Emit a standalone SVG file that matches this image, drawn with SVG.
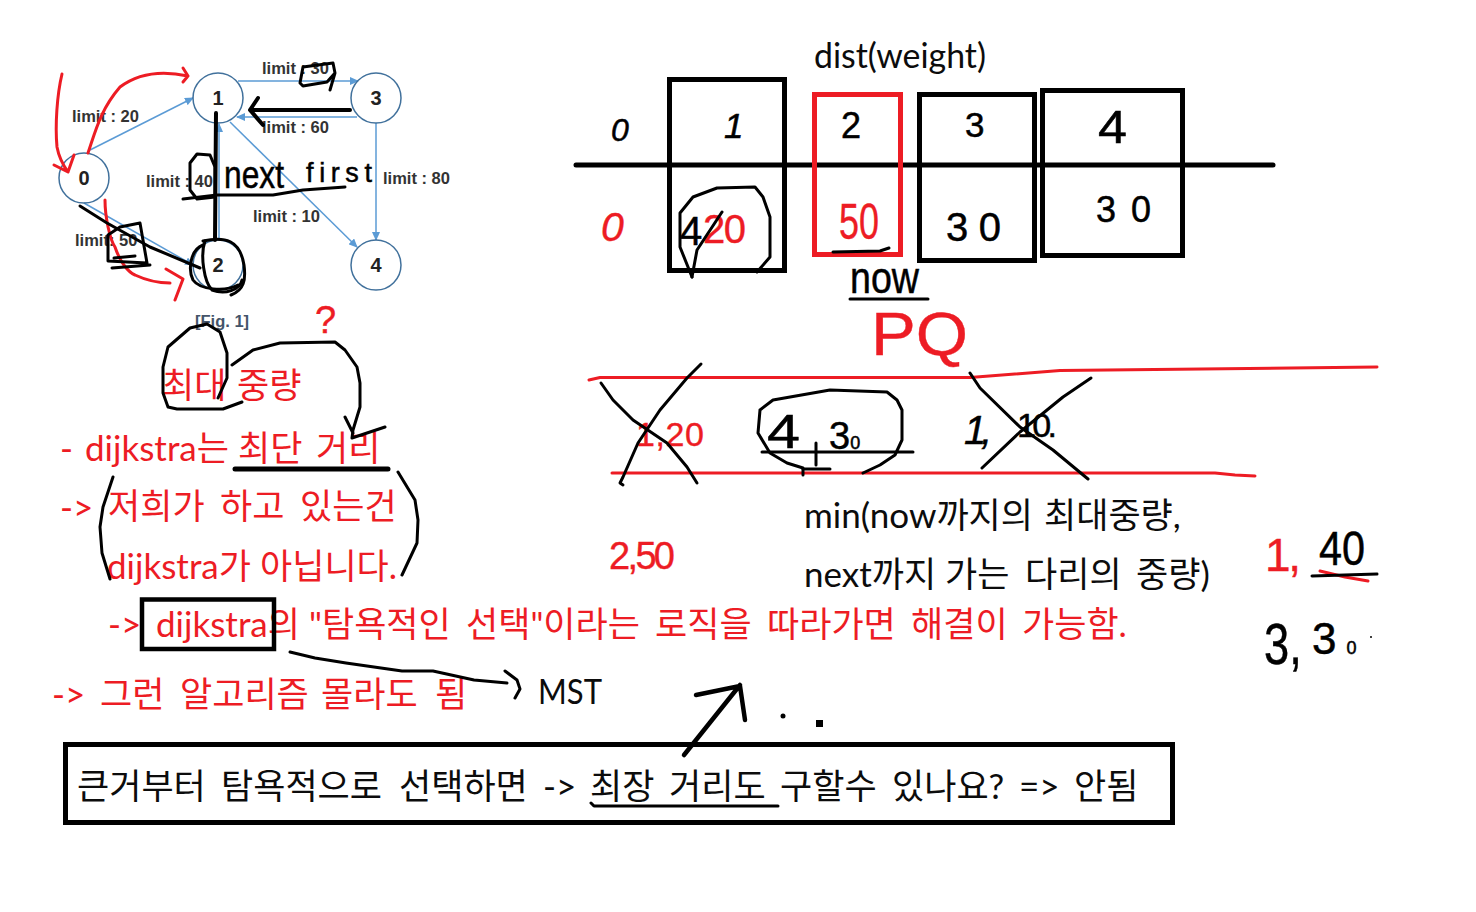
<svg xmlns="http://www.w3.org/2000/svg" width="1476" height="912" viewBox="0 0 1476 912">
<style>
.t{font-family:"Lato","Noto Sans CJK KR",sans-serif;font-size:35px}
.r{fill:#ed1c24}.k{fill:#0c0c0c}
.l{font-family:"Liberation Sans",sans-serif;font-size:16.5px;font-weight:700;fill:#333}
.n{font-family:"Liberation Sans",sans-serif;font-size:20px;font-weight:700;fill:#222;text-anchor:middle}
.c{fill:none;stroke:#41719c;stroke-width:1.5}
.e{fill:none;stroke:#5b9bd5;stroke-width:1.5;marker-end:url(#a)}
.ink{fill:none;stroke:#000;stroke-width:3;stroke-linecap:round;stroke-linejoin:round}
.red{fill:none;stroke:#ed1c24;stroke-width:3;stroke-linecap:round;stroke-linejoin:round}
.hw{font-family:"Liberation Sans",sans-serif}
.hi{font-family:"Liberation Sans",sans-serif;font-style:italic}
.hk{fill:#000;stroke:#000;stroke-width:.5}
.hr{fill:#ed1c24;stroke:#ed1c24;stroke-width:.4}
</style>
<defs><marker id="a" markerWidth="9" markerHeight="8" refX="8" refY="4" orient="auto" markerUnits="userSpaceOnUse"><path d="M0 0L9 4L0 8Z" fill="#5b9bd5"/></marker></defs>
<rect width="1476" height="912" fill="#fff"/>
<g id="connectors">
<path class="e" d="M90 150L193 98"/>
<path class="e" d="M238 81H358"/>
<path class="e" d="M357 117H237"/>
<path class="e" d="M219 240V124"/>
<path class="e" d="M230 122L357 247"/>
<path class="e" d="M376 123V240"/>
<path class="e" d="M84 203L193 265"/>
</g>
<g id="node0"><circle class="c" cx="84" cy="178" r="25"/><text class="n" x="84" y="185">0</text></g>
<g id="node1"><circle class="c" cx="218" cy="98" r="25"/><text class="n" x="218" y="105">1</text></g>
<g id="node2"><circle class="c" cx="218" cy="265" r="25"/><text class="n" x="218" y="272">2</text></g>
<g id="node3"><circle class="c" cx="376" cy="98" r="25"/><text class="n" x="376" y="105">3</text></g>
<g id="node4"><circle class="c" cx="376" cy="265" r="25"/><text class="n" x="376" y="272">4</text></g>
<g id="edge-labels">
<text class="l" x="262" y="74">limit : 30</text>
<text class="l" x="72" y="122">limit : 20</text>
<text class="l" x="262" y="133">limit : 60</text>
<text class="l" x="146" y="187">limit : 40</text>
<text class="l" x="383" y="184">limit : 80</text>
<text class="l" x="253" y="222">limit : 10</text>
<text class="l" x="75" y="246">limit: 50</text>
<text class="l" x="195" y="327" style="fill:#44546a">[Fig. 1]</text>
</g>
<g id="typed-text">
<text class="t r" y="398"><tspan x="162">최대</tspan><tspan x="237">중량</tspan></text>
<text class="t r" y="461"><tspan x="60">-</tspan><tspan x="85">dijkstra는</tspan><tspan x="238">최단</tspan><tspan x="316">거리</tspan></text>
<text class="t r" x="60" y="520">-&gt;</text>
<text class="t r" y="519"><tspan x="108">저희가</tspan><tspan x="220">하고</tspan><tspan x="300">있는건</tspan></text>
<text class="t r" y="579"><tspan x="107">dijkstra가</tspan><tspan x="260">아닙니다.</tspan></text>
<text class="t r" y="637"><tspan x="108">-&gt;</tspan><tspan x="156">dijkstra의</tspan><tspan x="309">"탐욕적인</tspan><tspan x="466">선택"이라는</tspan><tspan x="655">로직을</tspan><tspan x="767">따라가면</tspan><tspan x="911">해결이</tspan><tspan x="1022">가능함.</tspan></text>
<text class="t r" y="707"><tspan x="52">-&gt;</tspan><tspan x="100">그런</tspan><tspan x="180">알고리즘</tspan><tspan x="321">몰라도</tspan><tspan x="435">됨</tspan></text>
<text class="t k" x="538" y="704" textLength="64" lengthAdjust="spacingAndGlyphs">MST</text>
<text class="t k" x="814" y="68" textLength="172" lengthAdjust="spacingAndGlyphs">dist(weight)</text>
<text class="t k" y="528"><tspan x="804">min(now까지의</tspan><tspan x="1044">최대중량,</tspan></text>
<text class="t k" y="587"><tspan x="804">next까지</tspan><tspan x="945">가는</tspan><tspan x="1025">다리의</tspan><tspan x="1136">중량)</tspan></text>
<text class="t k" y="799"><tspan x="77">큰거부터</tspan><tspan x="221">탐욕적으로</tspan><tspan x="399">선택하면</tspan><tspan x="543">-&gt;</tspan><tspan x="590">최장</tspan><tspan x="669">거리도</tspan><tspan x="780">구할수</tspan><tspan x="892">있나요?</tspan><tspan x="1019">=&gt;</tspan><tspan x="1074">안됨</tspan></text>
</g>
<g id="table">
<path d="M576 165H1273" stroke="#000" stroke-width="5" stroke-linecap="round"/>
<rect x="669.5" y="79.5" width="115" height="191" fill="none" stroke="#000" stroke-width="5"/>
<rect x="919.5" y="94.5" width="115" height="166" fill="none" stroke="#000" stroke-width="5"/>
<rect x="1042.5" y="90.5" width="140" height="165" fill="none" stroke="#000" stroke-width="5"/>
<rect x="814.5" y="94.5" width="86" height="160" fill="none" stroke="#ed1c24" stroke-width="5"/>
</g>
<g id="handwriting">
<text class="hi hk" x="611" y="141" font-size="32">0</text>
<text class="hi hk" x="724" y="138" font-size="35">1</text>
<text class="hw hk" x="841" y="138" font-size="36">2</text>
<text class="hw hk" x="965" y="137" font-size="35">3</text>
<text class="hw hk" x="1098" y="143" font-size="46" lengthAdjust="spacingAndGlyphs" textLength="29">4</text>
<text class="hi hr" x="601" y="241" font-size="41">0</text>
<text class="hw hk" x="680" y="245" font-size="40">4</text>
<text class="hw hr" x="703" y="243" font-size="40" textLength="43">20</text>
<text class="hw hr" x="839" y="239" font-size="50" lengthAdjust="spacingAndGlyphs" textLength="40">50</text>
<text class="hw hk" x="946" y="241" font-size="40" textLength="55">30</text>
<text class="hw hk" x="1096" y="222" font-size="36" textLength="55">30</text>
<text class="hw hk" x="850" y="293" font-size="44" lengthAdjust="spacingAndGlyphs" textLength="69">now</text>
<text class="hw hr" x="871" y="355" font-size="62" lengthAdjust="spacingAndGlyphs" textLength="97">PQ</text>
<text class="hw hr" x="315" y="333" font-size="38">?</text>
<text class="hw hk" x="224" y="188" font-size="38" lengthAdjust="spacingAndGlyphs" textLength="60">next</text>
<text class="hw hk" x="306" y="182" font-size="27" textLength="66">first</text>
<text class="hw hr" x="636" y="446" font-size="34" textLength="68">1,20</text>
<text class="hw hk" x="767" y="448" font-size="48" lengthAdjust="spacingAndGlyphs" textLength="33">4</text>
<text class="hw hk" x="829" y="449"><tspan font-size="38">3</tspan><tspan font-size="18">0</tspan></text>
<text class="hi hk" x="964" y="444" font-size="40" textLength="28">1,</text>
<text class="hw hk" x="1017" y="437" font-size="34" textLength="40">10.</text>
<text class="hw hr" x="609" y="569" font-size="38" textLength="66">2,50</text>
<text class="hw hr" x="1265" y="571" font-size="46" textLength="36">1,</text>
<text class="hw hk" x="1319" y="565" font-size="48" lengthAdjust="spacingAndGlyphs" textLength="46">40</text>
<text class="hw hk" transform="translate(1264 664) scale(.78 1)" font-size="58">3,</text>
<text class="hw hk" x="1312" y="654"><tspan font-size="44">3</tspan><tspan dx="10" font-size="18">0</tspan></text>
</g>
<g id="red-ink">
<path class="red" d="M62 74C57 95 55 125 57 147C59 158 63 165 68 172M54 165L68 172L74 155"/>
<path class="red" d="M88 153C95 133 100 110 120 87C140 72 165 71 188 76M183 68L188 76L183 82"/>
<path class="red" d="M105 200C105 217 110 240 115 247C120 262 128 272 135 275C150 282 160 283 170 283M166 269L183 279L175 300"/>
<path class="red" d="M589 380L600 377.5H970L1060 370.5L1377 367"/>
<path class="red" d="M612 473H1215L1235 475L1255 476"/>
<path class="red" d="M1320 571L1345 577L1368 581"/>
</g>
<g id="black-ink">
<path class="ink" d="M80 206L107 223L150 247L200 268"/>
<path class="ink" d="M108 235L120 227L140 223L147 263L108 261ZM112 268L150 265M114 258L135 256"/>
<path class="ink" d="M203 241C225 236 240 240 244 265C246 280 244 290 231 295M203 245C190 250 188 270 193 280C200 290 225 292 238 285"/>
<path class="ink" d="M205 241C200 255 204 282 212 290C225 295 240 290 242 280"/>
<path class="ink" style="stroke-width:4" d="M216 113L215 240"/>
<path class="ink" style="stroke-width:4" d="M350 110H250M258 98L250 110L263 125"/>
<path class="ink" d="M303 67L333 63L335 73L327 82L303 86L300 83ZM335 73L330 90"/>
<path class="ink" d="M190 163L197 154L210 155L215 167V197L197 199L190 190Z"/>
<path class="ink" d="M183 199L217 195H273L303 190L345 187"/>
<path class="ink" d="M692 277L680 247V213L693 197L717 188L755 187L763 197L770 217V257L757 272"/>
<path class="ink" d="M722 212L697 250L692 277"/>
<path class="ink" d="M833 252L880 251L889 248"/>
<path class="ink" d="M850 299H928"/>
<path class="ink" d="M601 383L613 400L633 420L667 443L687 467L697 483"/>
<path class="ink" d="M701 364L687 378L660 410L638 443L623 477L620 483L623 485"/>
<path class="ink" d="M760 410L773 400L830 390L887 392L897 400L902 410V440L895 455L880 465L863 473M760 410L758 433L770 453L787 463L803 468V475"/>
<path class="ink" d="M762 452H913M803 469H830M816 443V465"/>
<path class="ink" d="M970 373L980 388L1020 427L1053 450L1088 479"/>
<path class="ink" d="M1091 378L1063 397L1020 432L982 468"/>
<path class="ink" d="M1312 576L1377 574"/>
<path class="ink" d="M218 398L227 378V353L220 332L207 324L190 328L168 347L163 367V393L168 407L177 409H223L242 402"/>
<path class="ink" d="M232 365L253 350L280 343L335 342L345 350L357 367L360 383V407L353 430L352 438L370 432L385 427M345 417L353 433"/>
<path class="ink" style="stroke-width:5" d="M235 469H388"/>
<path class="ink" d="M113 477L103 507L100 527L102 553L110 579"/>
<path class="ink" d="M398 472L415 500L418 520L417 543L402 575"/>
<rect x="142" y="599.5" width="132" height="49.5" fill="none" stroke="#000" stroke-width="4.5"/>
<path class="ink" d="M290 652L315 658L346 663L402 671H433L474 680L507 683"/>
<path class="ink" d="M505 671L517 680L520 689L515 698"/>
<path class="ink" style="stroke-width:4.5" d="M684 755L740 685M696 695L740 686L745 720"/>
<circle cx="783" cy="716" r="2.5"/>
<rect x="816" y="720" width="7" height="7"/>
<circle cx="1371" cy="637" r="1"/>
<rect x="65.5" y="744.5" width="1107" height="78" fill="none" stroke="#000" stroke-width="5"/>
<path class="ink" d="M591 803L594 806H778"/>
</g>
</svg>
